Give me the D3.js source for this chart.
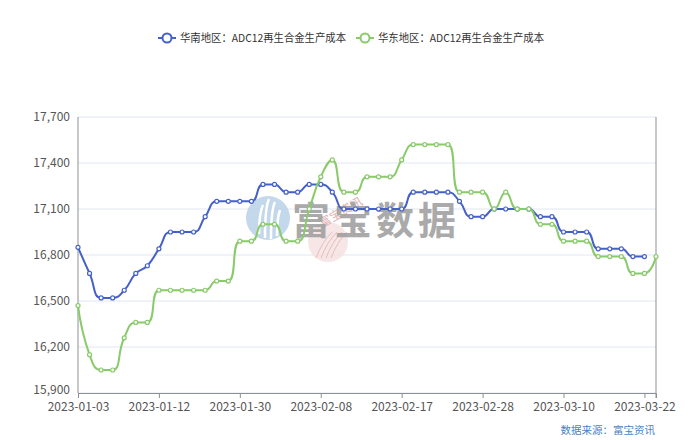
<!DOCTYPE html>
<html><head><meta charset="utf-8">
<script src="https://cdn.jsdelivr.net/npm/d3@7/dist/d3.min.js"></script>
<style>body{margin:0;background:#fff;}svg{display:block;font-family:"Microsoft YaHei","Noto Sans CJK SC",sans-serif;}</style>
</head><body><svg id="c" width="700" height="440"></svg>
<script>
const dates = ["2023-01-03","2023-01-04","2023-01-05","2023-01-06","2023-01-09","2023-01-10","2023-01-11","2023-01-12","2023-01-13","2023-01-16","2023-01-17","2023-01-18","2023-01-19","2023-01-20","2023-01-30","2023-01-31","2023-02-01","2023-02-02","2023-02-03","2023-02-06","2023-02-07","2023-02-08","2023-02-09","2023-02-10","2023-02-13","2023-02-14","2023-02-15","2023-02-16","2023-02-17","2023-02-20","2023-02-21","2023-02-22","2023-02-23","2023-02-24","2023-02-27","2023-02-28","2023-03-01","2023-03-02","2023-03-03","2023-03-06","2023-03-07","2023-03-09","2023-03-10","2023-03-13","2023-03-14","2023-03-15","2023-03-16","2023-03-17","2023-03-20","2023-03-22","2023-03-23"];
const southChina = [16850,16680,16520,16520,16570,16680,16730,16840,16950,16950,16950,17050,17150,17150,17150,17150,17260,17260,17210,17210,17260,17260,17210,17100,17100,17100,17100,17100,17100,17210,17210,17210,17210,17150,17050,17050,17100,17100,17100,17100,17050,17050,16950,16950,16950,16840,16840,16840,16790,16790,null];
const eastChina = [16470,16150,16050,16050,16260,16360,16360,16570,16570,16570,16570,16570,16630,16630,16890,16890,17000,17000,16890,16890,17100,17310,17420,17210,17210,17310,17310,17310,17420,17520,17520,17520,17520,17210,17210,17210,17100,17210,17100,17100,17000,17000,16890,16890,16890,16790,16790,16790,16680,16680,16790];
const yTicks = [15900,16200,16500,16800,17100,17400,17700];
const labelEvery = 7;
const seriesNames = ["华南地区：ADC12再生合金生产成本","华东地区：ADC12再生合金生产成本"];
const colors = ["#4561c8","#89ca6a"];

const svg = d3.select("#c");
const L=78, R=656, T=117, B=393;
const x = d3.scalePoint().domain(dates).range([L,R]);
const y = d3.scaleLinear().domain([15900,17700]).range([B,T]);

// ECharts-style smooth path (smooth = 0.5)
function smoothPath(pts, smooth){
  const p = d3.path();
  let prevX, prevY, cpx0, cpy0, cpx1, cpy1, nextCpx0, nextCpy0;
  const n = pts.length;
  for(let k=0;k<n;k++){
    const [px,py] = pts[k];
    if(k===0){ p.moveTo(px,py); cpx0=px; cpy0=py; }
    else{
      if(k+1>=n){ cpx1=px; cpy1=py; }
      else{
        const [nx,ny] = pts[k+1];
        let vx = nx-prevX, vy = ny-prevY;
        const dx0=px-prevX, dx1=nx-px, dy0=py-prevY, dy1=ny-py;
        const lp=Math.sqrt(dx0*dx0+dy0*dy0), ln=Math.sqrt(dx1*dx1+dy1*dy1);
        const r = ln/(ln+lp);
        nextCpx0 = px + vx*smooth*r; nextCpy0 = py + vy*smooth*r;
        nextCpx0 = Math.max(Math.min(nextCpx0, Math.max(nx,px)), Math.min(nx,px));
        nextCpy0 = Math.max(Math.min(nextCpy0, Math.max(ny,py)), Math.min(ny,py));
        vx = nextCpx0-px; vy = nextCpy0-py;
        cpx1 = px - vx*lp/ln; cpy1 = py - vy*lp/ln;
        cpx1 = Math.max(Math.min(cpx1, Math.max(prevX,px)), Math.min(prevX,px));
        cpy1 = Math.max(Math.min(cpy1, Math.max(prevY,py)), Math.min(prevY,py));
        vx = px-cpx1; vy = py-cpy1;
        nextCpx0 = px + vx*ln/lp; nextCpy0 = py + vy*ln/lp;
      }
      p.bezierCurveTo(cpx0,cpy0,cpx1,cpy1,px,py);
      cpx0=nextCpx0; cpy0=nextCpy0;
    }
    prevX=px; prevY=py;
  }
  return p.toString();
}

// grid
svg.append("g").selectAll("line").data(yTicks).join("line")
  .attr("x1",L).attr("x2",R).attr("y1",d=>y(d)).attr("y2",d=>y(d))
  .attr("stroke","#E0E6F1").attr("stroke-width",1);

// watermark
const wm = svg.append("g");
wm.append("circle").attr("cx",268).attr("cy",218).attr("r",22).attr("fill","#b9d1e6").attr("opacity",0.85);
[[259,234,263,205],[265,238,269,199],[271,239,275,202],[277,236,280,210]].forEach(q=>{
  wm.append("path").attr("d",`M${q[0]},${q[1]} Q${q[0]},${q[3]+8} ${q[2]},${q[3]}`).attr("stroke","#fff").attr("stroke-width",2.5).attr("fill","none");
});
wm.append("circle").attr("cx",328).attr("cy",242).attr("r",20).attr("fill","#f5e0e0").attr("opacity",0.8);
[0,1,2,3].forEach(i=>{
  wm.append("path").attr("d",`M${316+i*5},${258} Q${322+i*5},${242} ${332+i*5},${232}`).attr("stroke","#e8bcbc").attr("stroke-width",1).attr("fill","none");
});
wm.append("text").attr("x",322).attr("y",228).attr("font-size",12).attr("fill","#e0b0b0").attr("transform","rotate(-30,322,228)").text("富宝资讯");
wm.append("text").attr("x",292).attr("y",234).attr("font-size",38).attr("font-weight","bold").attr("fill","#9c9c9c").attr("opacity",0.85).attr("letter-spacing",4).text("富宝数据");

// axes lines
svg.append("line").attr("x1",L).attr("x2",L).attr("y1",T).attr("y2",B).attr("stroke","#8c8f96");
svg.append("line").attr("x1",R).attr("x2",R).attr("y1",T).attr("y2",B).attr("stroke","#8c8f96");
const xa = d3.axisBottom(x).tickValues(dates.filter((d,i)=>i%labelEvery===0)).tickSize(5).tickPadding(4);
const gx = svg.append("g").attr("transform",`translate(0,${B})`).call(xa);
gx.select(".domain").attr("stroke","#8c8f96");
gx.selectAll(".tick line").attr("stroke","#8c8f96");
gx.selectAll("text").attr("font-size",12).attr("fill","#555").attr("font-family","'Microsoft YaHei','Noto Sans CJK SC',sans-serif");
gx.append("line").attr("x1",R).attr("x2",R).attr("y1",0).attr("y2",5).attr("stroke","#8c8f96");

const ya = d3.axisLeft(y).tickValues(yTicks).tickSize(0).tickPadding(8).tickFormat(d3.format(","));
const gy = svg.append("g").attr("transform",`translate(${L},0)`).call(ya);
gy.select(".domain").remove();
gy.selectAll("text").attr("font-size",12).attr("fill","#555").attr("font-family","'Microsoft YaHei','Noto Sans CJK SC',sans-serif");
gy.selectAll(".tick").filter(d=>d===15900).select("text").attr("dy","0.05em");

// lines
[southChina, eastChina].forEach((vals,si)=>{
  const pts = vals.map((v,i)=>({d:dates[i],v})).filter(p=>p.v!==null);
  const xy = pts.map(p=>[x(p.d), y(p.v)]);
  svg.append("path").attr("d",smoothPath(xy,0.5)).attr("fill","none").attr("stroke",colors[si]).attr("stroke-width",2);
  svg.append("g").selectAll("circle").data(pts).join("circle")
    .attr("cx",p=>x(p.d)).attr("cy",p=>y(p.v)).attr("r",2).attr("fill","#fff").attr("stroke",colors[si]).attr("stroke-width",1.2);
});

// legend
const legX = [158, 356];
seriesNames.forEach((n,i)=>{
  const g = svg.append("g").attr("transform",`translate(${legX[i]},38)`);
  g.append("line").attr("x1",0).attr("x2",18).attr("stroke",colors[i]).attr("stroke-width",2);
  g.append("circle").attr("cx",9).attr("r",4.5).attr("fill","#fff").attr("stroke",colors[i]).attr("stroke-width",2);
  g.append("text").attr("x",22).attr("y",4).attr("font-size",11).attr("fill","#333")
    .attr("textLength",166).attr("lengthAdjust","spacingAndGlyphs").text(n);
});

svg.append("text").attr("x",655).attr("y",434).attr("text-anchor","end").attr("font-size",10.5).attr("fill","#4d7fc4").text("数据来源：富宝资讯");
</script></body></html>
